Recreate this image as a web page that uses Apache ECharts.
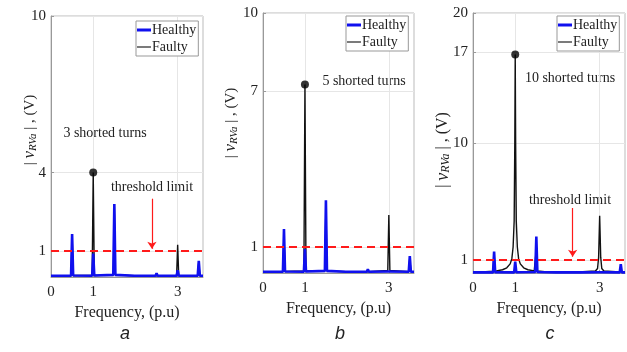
<!DOCTYPE html>
<html>
<head>
<meta charset="utf-8">
<script src="https://cdn.jsdelivr.net/npm/echarts@6.0.0/dist/echarts.min.js"></script>
<style>
  html, body { margin: 0; padding: 0; background: #fff; }
  #main { width: 627px; height: 352px; }
</style>
</head>
<body>
<div id="main"></div>
<script>
// shared frequency grid for panels a, b and the healthy trace of c (p.u)
const freq = [0, 0.475, 0.5, 0.525, 0.975, 1.0, 1.025, 1.475, 1.5, 1.525, 1.975, 2.0, 2.025,
  2.475, 2.5, 2.525, 2.975, 3.0, 3.025, 3.475, 3.5, 3.525, 3.6];

const healthyA = [0.05, 0.05, 1.65, 0.06, 0.05, 0.9, 0.06, 0.08, 2.8, 0.08, 0.05, 0.05, 0.05,
  0.05, 0.14, 0.05, 0.05, 0.26, 0.05, 0.05, 0.62, 0.05, 0.05];
const faultyA = [0.05, 0.05, 1.6, 0.06, 0.06, 4.0, 0.06, 0.08, 2.7, 0.08, 0.05, 0.08, 0.05,
  0.05, 0.12, 0.05, 0.06, 1.23, 0.06, 0.05, 0.6, 0.05, 0.05];

const healthyB = [0.05, 0.05, 1.69, 0.06, 0.05, 0.92, 0.06, 0.08, 2.8, 0.08, 0.05, 0.05, 0.05,
  0.05, 0.14, 0.05, 0.06, 0.12, 0.06, 0.05, 0.65, 0.05, 0.05];
const faultyB = [0.05, 0.05, 1.6, 0.06, 0.08, 7.25, 0.08, 0.08, 2.7, 0.08, 0.05, 0.05, 0.05,
  0.05, 0.12, 0.05, 0.1, 2.23, 0.1, 0.05, 0.6, 0.05, 0.05];

const healthyC = [0.05, 0.05, 1.64, 0.06, 0.05, 0.87, 0.06, 0.08, 2.8, 0.08, 0.05, 0.05, 0.05,
  0.05, 0.1, 0.05, 0.06, 0.15, 0.06, 0.05, 0.67, 0.05, 0.05];
const freqCf = [0, 0.3, 0.475, 0.5, 0.525, 0.7, 0.8, 0.88, 0.92, 0.95, 0.975, 0.99, 1.0, 1.01,
  1.025, 1.05, 1.08, 1.12, 1.2, 1.3, 1.45, 1.475, 1.5, 1.525, 1.7, 2.5, 2.9, 2.95, 2.975, 3.0,
  3.025, 3.05, 3.1, 3.475, 3.5, 3.525, 3.6];
const faultyC = [0.08, 0.1, 0.13, 1.5, 0.14, 0.25, 0.4, 0.7, 1.1, 2.0, 4.0, 10.0, 16.8, 10.0,
  4.0, 2.0, 1.1, 0.7, 0.4, 0.25, 0.16, 0.15, 1.8, 0.15, 0.1, 0.08, 0.15, 0.35, 1.2, 4.4,
  1.2, 0.35, 0.15, 0.08, 0.45, 0.08, 0.06];

// faulty fundamental peak (marked with a dot)
const peakA = [1.0, 4.0];
const peakB = [1.0, 7.25];
const peakC = [1.0, 16.8];

const yTicksA = [1, 4, 10];
const yTicksB = [1, 7, 10];
const yTicksC = [1, 10, 17, 20];
const xTicks = [0, 1, 3];
const threshold = 1;

const serif = '"Liberation Serif", "DejaVu Serif", serif';

const zip = (xs, ys) => xs.map((x, i) => [x, ys[i]]);

const chart = echarts.init(document.getElementById('main'));

const grids = [
  { left: 51, top: 16, width: 152, height: 261 },
  { left: 263, top: 13, width: 151, height: 260 },
  { left: 473, top: 13, width: 152, height: 260 }
];

const yMax = [10, 10, 20];
const yTicks = [yTicksA, yTicksB, yTicksC];

function xAxis(i) {
  return {
    type: 'value', gridIndex: i, min: 0, max: 3.6,
    name: 'Frequency, (p.u)', nameLocation: 'middle', nameGap: 24,
    nameTextStyle: { fontFamily: serif, fontSize: 16, color: '#222' },
    axisLine: { lineStyle: { color: '#999', width: 1 } },
    axisTick: { inside: true, length: 3, customValues: xTicks, lineStyle: { color: '#999' } },
    axisLabel: { customValues: xTicks, margin: 8, fontFamily: serif, fontSize: 15, color: '#222' },
    splitLine: { show: true, lineStyle: { color: '#e6e6e6', width: 1 } }
  };
}

function yAxis(i) {
  return {
    type: 'value', gridIndex: i, min: 0, max: yMax[i],
    axisLine: { show: true, lineStyle: { color: '#999', width: 1 } },
    axisTick: { show: true, inside: true, length: 3, customValues: yTicks[i], lineStyle: { color: '#999' } },
    axisLabel: { customValues: yTicks[i], margin: 5, fontFamily: serif, fontSize: 15, color: '#222' },
    splitLine: { show: true, lineStyle: { color: '#e6e6e6', width: 1 } }
  };
}

const thresholdLine = {
  silent: true, symbol: 'none',
  lineStyle: { color: '#ff1a1a', type: [8, 5], width: 2 },
  label: { show: false },
  data: [{ yAxis: threshold }]
};

function arrow(x, y0, y1) {
  return {
    silent: true, symbol: ['none', 'arrow'], symbolSize: 7,
    lineStyle: { color: '#ff1a1a', type: 'solid', width: 1.2 },
    label: { show: false },
    data: [[{ coord: [x, y0] }, { coord: [x, y1] }]]
  };
}

function panelSeries(i, fx, faulty, hx, healthy, peak, arrowLine) {
  return [
    {
      name: 'Faulty', type: 'line', xAxisIndex: i, yAxisIndex: i,
      data: zip(fx, faulty), symbol: 'none', z: 2,
      lineStyle: { color: '#111', width: 1.4 }, itemStyle: { color: '#111' }
    },
    {
      name: 'Healthy', type: 'line', xAxisIndex: i, yAxisIndex: i,
      data: zip(hx, healthy), symbol: 'none', z: 3,
      lineStyle: { color: '#1010ee', width: 2.6 }, itemStyle: { color: '#1010ee' },
      markLine: thresholdLine
    },
    {
      name: 'peak' + i, type: 'scatter', xAxisIndex: i, yAxisIndex: i,
      data: [peak], symbolSize: 8, z: 4, itemStyle: { color: '#000' },
      markLine: arrowLine || undefined
    }
  ];
}

function legend(left, top) {
  return {
    data: [
      { name: 'Healthy', icon: 'path://M0,0H14V3H0Z', itemStyle: { color: '#1010ee' } },
      { name: 'Faulty', icon: 'path://M0,0H14V1.3H0Z', itemStyle: { color: '#333' } }
    ],
    orient: 'vertical', left: left, top: top,
    itemWidth: 14, itemHeight: 8, itemGap: 3, padding: [2, 2, 2, 1],
    backgroundColor: '#fff', borderColor: '#999', borderWidth: 1, borderRadius: 0,
    selectedMode: false,
    textStyle: { fontFamily: serif, fontSize: 14, color: '#222', padding: [0, 0, 0, -4] }
  };
}

function yLabel(x, y, size) {
  return {
    type: 'text', x: x, y: y, rotation: Math.PI / 2,
    style: {
      text: '| {v|v}{s|RVa} | , (V)',
      x: 0, y: 0, align: 'center', verticalAlign: 'middle',
      font: size + 'px ' + serif, fill: '#222',
      rich: {
        v: { fontFamily: serif, fontStyle: 'italic', fontSize: size + 2, fill: '#222' },
        s: { fontFamily: serif, fontStyle: 'italic', fontSize: size - 4, fill: '#222', verticalAlign: 'bottom', padding: [6, 0, 0, 0] }
      }
    }
  };
}

function note(x, y, txt) {
  return {
    type: 'text', x: x, y: y,
    style: { text: txt, x: 0, y: 0, align: 'center', verticalAlign: 'middle', font: '14px ' + serif, fill: '#222' }
  };
}

function caption(x, txt) {
  return {
    type: 'text', x: x, y: 334,
    style: { text: txt, align: 'center', verticalAlign: 'middle', font: 'italic 18px "Liberation Sans", Arial, sans-serif', fill: '#222' }
  };
}

const option = {
  animation: false,
  backgroundColor: '#fff',
  grid: grids.map(g => Object.assign({ show: true, borderColor: '#bbb', borderWidth: 1, backgroundColor: 'transparent' }, g)),
  xAxis: [0, 1, 2].map(xAxis),
  yAxis: [0, 1, 2].map(yAxis),
  legend: [legend(136, 21), legend(346, 16), legend(557, 16)],
  series: [
    ...panelSeries(0, freq, faultyA, freq, healthyA, peakA, arrow(2.39, 3.0, 1.08)),
    ...panelSeries(1, freq, faultyB, freq, healthyB, peakB, null),
    ...panelSeries(2, freqCf, faultyC, freq, healthyC, peakC, arrow(2.36, 5.0, 1.25))
  ],
  graphic: [
    yLabel(30, 130, 15), yLabel(231, 123, 15), yLabel(443, 150, 16),
    note(105, 133, '3 shorted turns'), note(152, 187, 'threshold limit'),
    note(364, 81, '5 shorted turns'),
    note(570, 78, '10 shorted turns'), note(570, 200, 'threshold limit'),
    caption(125, 'a'), caption(340, 'b'), caption(550, 'c')
  ]
};

chart.setOption(option);
</script>
</body>
</html>
